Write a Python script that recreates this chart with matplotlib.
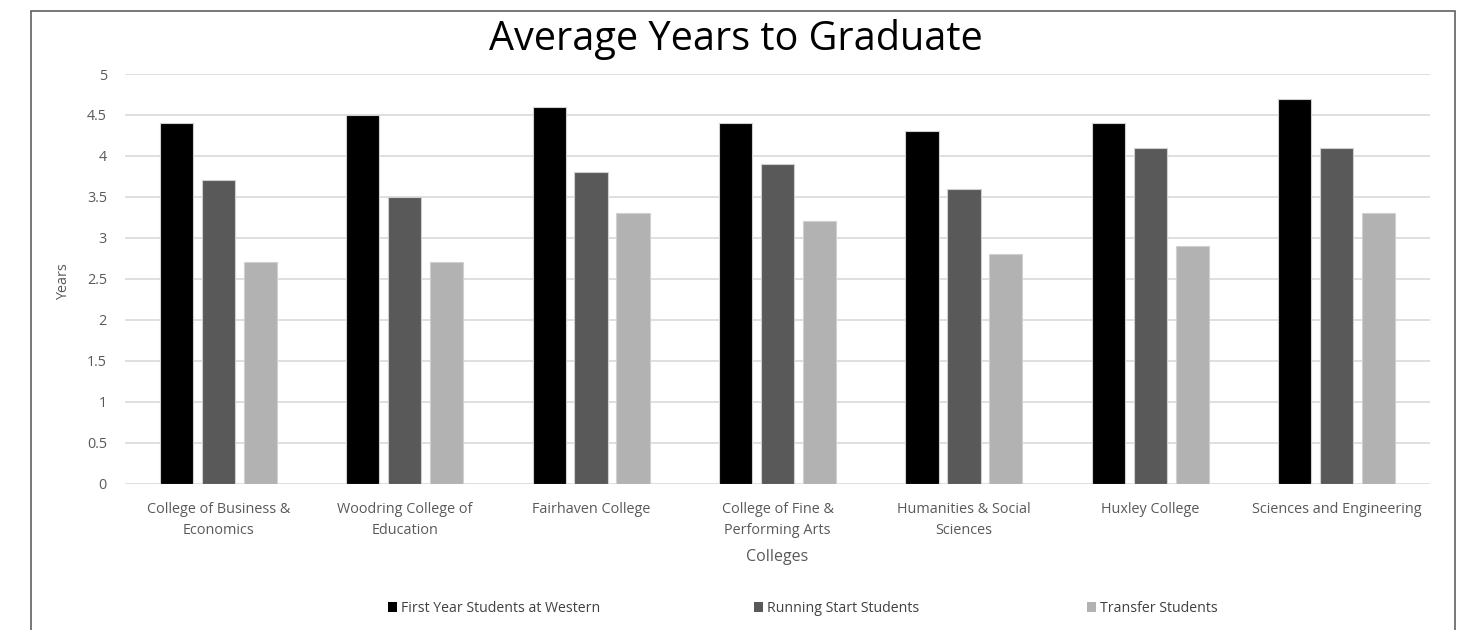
import matplotlib
matplotlib.use("Agg")
import matplotlib.pyplot as plt
import numpy as np
from matplotlib.patches import Rectangle, Patch

categories = ["College of Business &\nEconomics", "Woodring College of\nEducation",
              "Fairhaven College", "College of Fine &\nPerforming Arts",
              "Humanities & Social\nSciences", "Huxley College", "Sciences and Engineering"]
first_year = [4.4, 4.5, 4.6, 4.4, 4.3, 4.4, 4.7]
running_start = [3.7, 3.5, 3.8, 3.9, 3.6, 4.1, 4.1]
transfer = [2.7, 2.7, 3.3, 3.2, 2.8, 2.9, 3.3]
series_names = ["First Year Students at Western", "Running Start Students", "Transfer Students"]
colors = ["#000000", "#595959", "#b2b2b2"]
yticks = [0, 0.5, 1, 1.5, 2, 2.5, 3, 3.5, 4, 4.5, 5]

plt.rcParams['font.family'] = ['Open Sans', 'DejaVu Sans']

W, H = 1458, 630
fig = plt.figure(figsize=(W/100, H/100), dpi=100)
ax_bottom, ax_top = 483.5, 74
ax = fig.add_axes([125/W, 1-ax_bottom/H, (1430-125)/W, (ax_bottom-ax_top)/H])
ah = ax_bottom - ax_top

x = np.arange(len(categories))
bw = 0.178
step = 0.225
for i, (vals, c) in enumerate(zip([first_year, running_start, transfer], colors)):
    ax.bar(x + (i-1)*step, vals, width=bw, color=c, edgecolor="#d0d0d0", linewidth=0.8, zorder=3)

ax.set_xlim(-0.5, len(categories)-0.5)
ax.set_ylim(0, 5)
ax.set_yticks(yticks)
ax.set_yticklabels([f"{v:g}" for v in yticks])
ax.set_xticks(x)
ax.set_xticklabels(categories, linespacing=1.6)
ax.tick_params(axis='both', length=0, labelsize=10.4, labelcolor="#595959")
ax.tick_params(axis='y', pad=13)
ax.tick_params(axis='x', pad=13)
ax.grid(axis='y', color="#d9d9d9", linewidth=1.2, zorder=0)
for s in ax.spines.values():
    s.set_visible(False)

ax.set_ylabel("Years", fontsize=10.4, color="#595959")
ax.yaxis.set_label_coords((64-125)/1305, (ax_bottom-282)/ah)
ax.yaxis.label.set_va("center")
ax.set_xlabel("Colleges", fontsize=11.5, color="#595959")
ax.xaxis.set_label_coords(0.5, (ax_bottom-557)/ah)
ax.xaxis.label.set_va("center")

fig.text(736/W, 1-50/H, "Average Years to Graduate", ha="center", va="baseline",
         fontsize=28.5, color="#000000")

# legend entries
lx = [388, 754, 1087]
for name, c, px in zip(series_names, colors, lx):
    leg = fig.legend(handles=[Patch(facecolor=c, edgecolor="none")], labels=[name],
                     loc="center left", bbox_to_anchor=(px/W, 1-608.5/H), frameon=False,
                     fontsize=10.2, handlelength=0.65, handleheight=0.65, handletextpad=0.3,
                     borderpad=0, borderaxespad=0)
    for t in leg.get_texts():
        t.set_color("#404040")

# outer frame
fig.patches.append(Rectangle((30.5/W, -0.1), (1455-30.5)/W, 1-10.5/H+0.1,
                             transform=fig.transFigure, fill=False,
                             edgecolor="#606060", linewidth=1.2))

fig.savefig("out.png", dpi=100, facecolor="white")
